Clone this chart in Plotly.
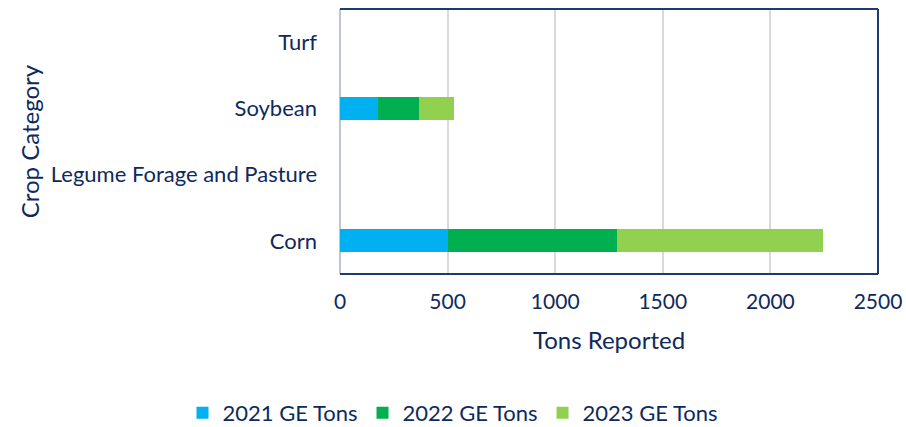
import plotly.graph_objects as go

crops = ["Corn", "Legume Forage and Pasture", "Soybean", "Turf"]
tons_2021 = [503, 0, 177, 0]
tons_2022 = [784, 0, 190, 0]
tons_2023 = [956, 0, 163, 0]

series = [
    ("2021 GE Tons", tons_2021, "#00B0F0"),
    ("2022 GE Tons", tons_2022, "#00B050"),
    ("2023 GE Tons", tons_2023, "#92D050"),
]

navy = "#0E2A5C"
font = "Lato"

fig = go.Figure()
for name, vals, color in series:
    fig.add_trace(go.Bar(
        y=crops, x=vals, name=name, orientation="h",
        marker=dict(color=color, line=dict(width=0)),
    ))

# frame: top, right, bottom in navy
for x0, y0, x1, y1 in [(0, 1, 1, 1), (1, 0, 1, 1), (0, 0, 1, 0)]:
    fig.add_shape(type="line", xref="paper", yref="paper",
                  x0=x0, y0=y0, x1=x1, y1=y1,
                  line=dict(color="#1F3A73", width=2))

fig.update_layout(
    barmode="stack",
    bargap=0.65,
    width=906, height=427,
    margin=dict(l=340, r=28, t=9, b=153),
    plot_bgcolor="white", paper_bgcolor="white",
    font=dict(family=font, size=22, color=navy),
    legend=dict(orientation="h", xref="container", x=0.5, xanchor="center",
                yref="container", y=0.033, yanchor="middle",
                font=dict(size=22, color=navy), traceorder="normal"),
    xaxis=dict(
        range=[0, 2500], dtick=500, tickformat="d",
        showgrid=True, gridcolor="#D9D9D9", gridwidth=2,
        zeroline=True, zerolinecolor="#BFC5D5", zerolinewidth=2,
        ticks="", ticklabelstandoff=13, automargin=False,
        tickfont=dict(size=21, color=navy),
        title=dict(text="Tons Reported", font=dict(size=24, color=navy), standoff=20),
    ),
    yaxis=dict(
        showgrid=False, ticks="", ticklabelstandoff=22, automargin=False,
        tickfont=dict(size=22, color=navy),
        title=dict(text="Crop Category", font=dict(size=24, color=navy), standoff=4),
        categoryorder="array", categoryarray=crops,
    ),
)

# drop the default 8px body margin so the figure fills the window
fig.write_html("out.html", config={"displayModeBar": False},
               post_script="document.body.style.margin='0';")
